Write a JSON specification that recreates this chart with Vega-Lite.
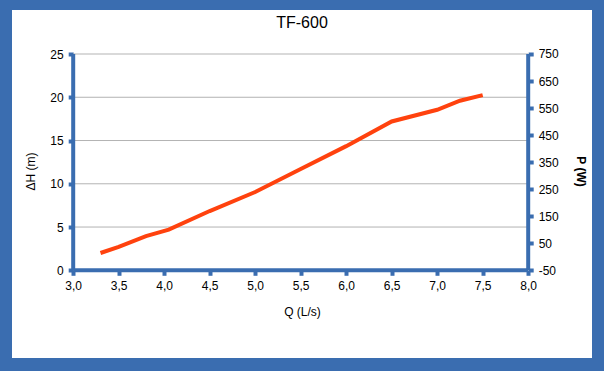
{
  "$schema": "https://vega.github.io/schema/vega-lite/v6.json",
  "width": 580,
  "height": 348,
  "autosize": {"type": "none"},
  "padding": {"left": 12, "top": 10, "right": 12, "bottom": 13},
  "background": "#3a6db0",
  "title": {"text": "TF-600", "fontSize": 16, "fontWeight": "normal", "font": "Liberation Sans", "color": "#000000", "anchor": "middle", "frame": "group", "offset": -21},
  "config": {
    "view": {"fill": "#ffffff", "stroke": null},
    "font": "Liberation Sans",
    "axis": {"labelFont": "Liberation Sans", "titleFont": "Liberation Sans", "labelFontSize": 12, "titleFontSize": 12, "labelColor": "#000000", "titleColor": "#000000", "domain": false, "grid": false, "tickColor": "#3a6db0", "tickWidth": 4, "tickSize": 5, "labelPadding": 5}
  },
  "datasets": {
    "curve": [
      {"Q": 3.3, "H": 2.0},
      {"Q": 3.5, "H": 2.7},
      {"Q": 3.8, "H": 3.95},
      {"Q": 4.05, "H": 4.7},
      {"Q": 4.5, "H": 6.85},
      {"Q": 5.0, "H": 9.05},
      {"Q": 5.5, "H": 11.7},
      {"Q": 6.0, "H": 14.35},
      {"Q": 6.5, "H": 17.2},
      {"Q": 7.0, "H": 18.55},
      {"Q": 7.25, "H": 19.6},
      {"Q": 7.5, "H": 20.25}
    ],
    "grid": [{"H": 5}, {"H": 10}, {"H": 15}, {"H": 20}, {"H": 25}]
  },
  "layer": [
    {
      "layer": [
        {
          "data": {"name": "grid"},
          "mark": {"type": "rule", "color": "#b3b3b3", "strokeWidth": 1},
          "encoding": {
            "x": {"datum": 3, "type": "quantitative", "scale": {"domain": [2.32747, 8.7011], "nice": false, "zero": false},
              "axis": {"values": [3, 3.5, 4, 4.5, 5, 5.5, 6, 6.5, 7, 7.5, 8], "offset": -87.7, "labelExpr": "replace(format(datum.value, '.1f'), '.', ',')", "title": "Q (L/s)", "titleFontWeight": "normal", "titleY": 36, "titleBaseline": "top"}},
            "x2": {"datum": 8},
            "y": {"field": "H", "type": "quantitative", "scale": {"domain": [-10.136, 30.0855], "nice": false, "zero": false},
              "axis": {"values": [0, 5, 10, 15, 20, 25], "offset": -61.2, "title": "ΔH (m)", "titleFontWeight": "normal", "titleY": 161, "titleX": -43, "titleBaseline": "middle"}}
          }
        },
        {
          "data": {"name": "curve"},
          "mark": {"type": "line", "color": "#ff420e", "strokeWidth": 4},
          "encoding": {
            "x": {"field": "Q", "type": "quantitative"},
            "y": {"field": "H", "type": "quantitative"}
          }
        },
        {
          "data": {"values": [{}]},
          "mark": {"type": "rule", "color": "#3a6db0", "strokeWidth": 4},
          "encoding": {
            "x": {"datum": 3, "type": "quantitative"},
            "y": {"datum": 0, "type": "quantitative"},
            "y2": {"datum": 25}
          }
        },
        {
          "data": {"values": [{}]},
          "mark": {"type": "rule", "color": "#3a6db0", "strokeWidth": 4},
          "encoding": {
            "x": {"datum": 3, "type": "quantitative"},
            "x2": {"datum": 8},
            "y": {"datum": 0, "type": "quantitative"}
          }
        }
      ]
    },
    {
      "data": {"values": [{}]},
      "mark": {"type": "rule", "color": "#3a6db0", "strokeWidth": 4},
      "encoding": {
        "x": {"datum": 8, "type": "quantitative"},
        "y": {"datum": -50, "type": "quantitative", "scale": {"domain": [-374.4, 912.7], "nice": false, "zero": false},
          "axis": {"orient": "right", "values": [-50, 50, 150, 250, 350, 450, 550, 650, 750], "offset": -63.8, "labelExpr": "replace(datum.label, '−', '-')", "title": "P (W)", "titleFontWeight": "bold", "titleAngle": 90, "titleY": 161, "titleX": 52, "titleBaseline": "middle"}},
        "y2": {"datum": 750}
      }
    }
  ],
  "resolve": {"scale": {"y": "independent"}}
}
